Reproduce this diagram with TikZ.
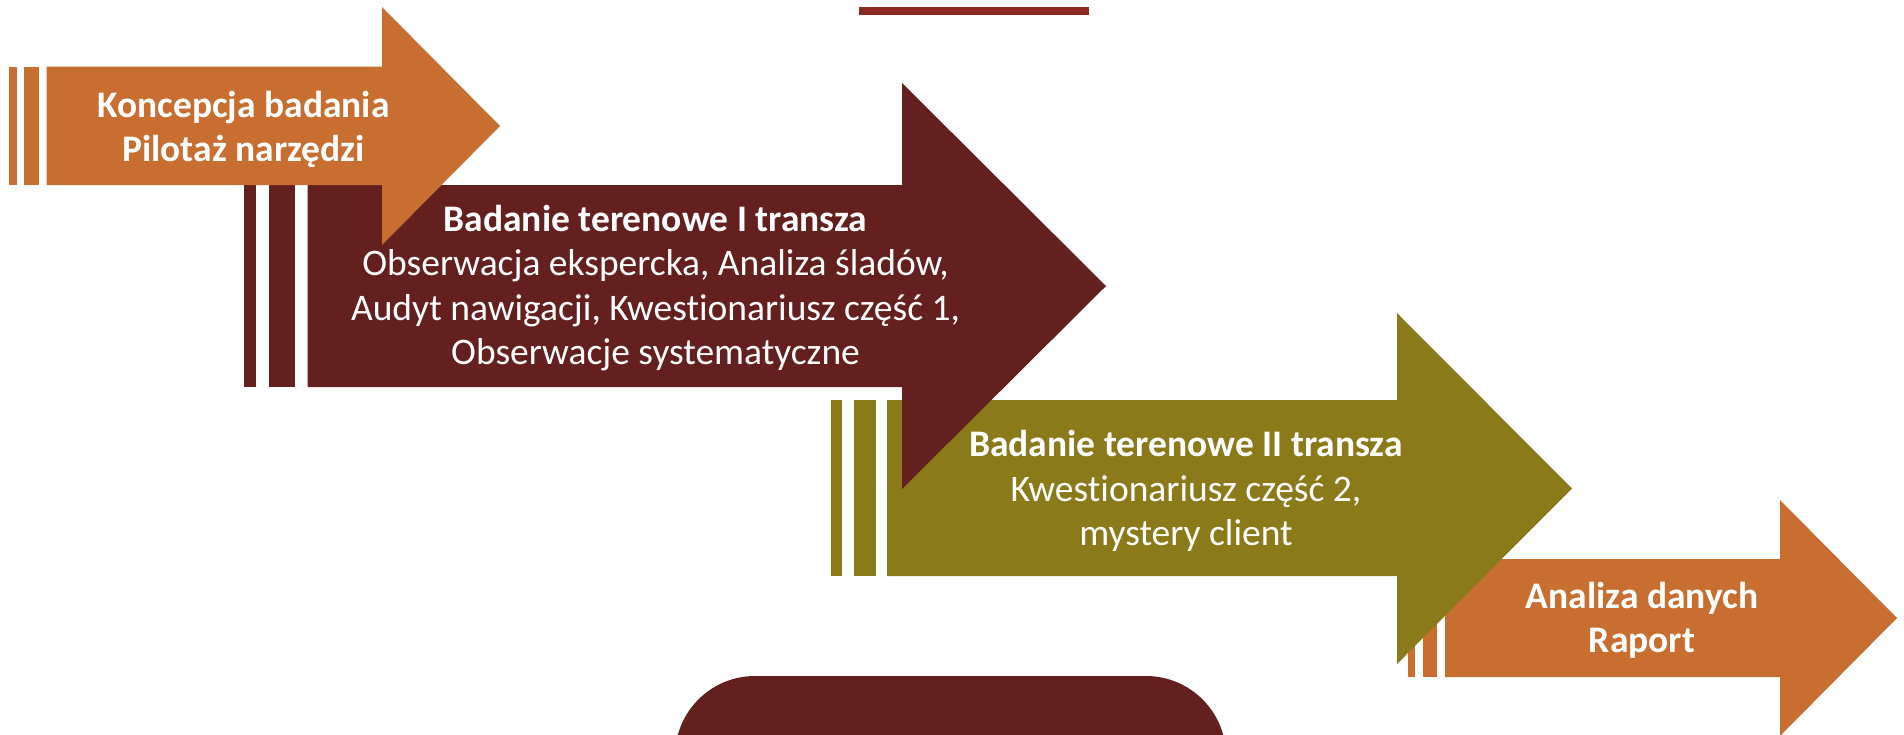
\documentclass[tikz,border=0pt]{standalone}
\usepackage{fontspec}
\setmainfont{Carlito}[Ligatures=NoCommon]
\definecolor{orangeA}{RGB}{200,110,48}
\definecolor{maroonA}{RGB}{100,32,30}
\definecolor{oliveA}{RGB}{139,122,25}
\definecolor{redline}{RGB}{139,41,35}
\begin{document}
\begin{tikzpicture}[x=1pt,y=-1pt,
  lbl/.style={text=white, inner sep=0pt, anchor=base, font=\fontsize{37.5}{45}\selectfont},
  lblb/.style={text=white, inner sep=0pt, anchor=base, font=\fontsize{37.5}{45}\selectfont\bfseries}]
\useasboundingbox (0,0) rectangle (1904,734);
% decorations
\fill[redline] (859,7) rectangle (1088.5,15);
\fill[maroonA, rounded corners=80pt] (675,676) rectangle (1226,900);
% arrow 4
\fill[orangeA] (1408,559) rectangle (1415,677);
\fill[orangeA] (1423,559) rectangle (1437,677);
\fill[orangeA] (1445,559) -- (1780,559) -- (1780,500) -- (1897,618) -- (1780,736) -- (1780,677) -- (1445,677) -- cycle;
\node[lblb] (d1) at (1642,608) {Analiza danych};
\node[lblb] (d2) at (1642,652.5) {Raport};
% arrow 3
\fill[oliveA] (831,400) rectangle (842,576);
\fill[oliveA] (854,400) rectangle (876,576);
\fill[oliveA] (887,400) -- (1397,400) -- (1397,313) -- (1572,488.5) -- (1397,664) -- (1397,576) -- (887,576) -- cycle;
\node[lblb] (c1) at (1186,456.5) {Badanie terenowe II transza};
\node[lbl] (c2) at (1186,501) {Kwestionariusz część 2,};
\node[lbl] (c3) at (1186,545) {mystery client};
% arrow 2
\fill[maroonA] (244,185) rectangle (256,387);
\fill[maroonA] (269,185) rectangle (294.5,387);
\fill[maroonA] (307.5,185) -- (902,185) -- (902,83) -- (1106,286) -- (902,489) -- (902,387) -- (307.5,387) -- cycle;
\node[lblb] (b1) at (655.5,231) {Badanie terenowe I transza};
\node[lbl] (b2) at (655.5,275.5) {Obserwacja ekspercka, Analiza śladów,};
\node[lbl] (b3) at (655.5,320) {Audyt nawigacji, Kwestionariusz część 1,};
\node[lbl] (b4) at (655.5,364) {Obserwacje systematyczne};
% arrow 1
\fill[orangeA] (9.3,66.7) rectangle (16.7,185);
\fill[orangeA] (24.3,66.7) rectangle (39,185);
\fill[orangeA] (46.7,66.7) -- (382,66.7) -- (382,7) -- (500,126) -- (382,245) -- (382,185) -- (46.7,185) -- cycle;
\node[lblb] (a1) at (243.5,117) {Koncepcja badania};
\node[lblb] (a2) at (243.5,161) {Pilotaż narzędzi};
\end{tikzpicture}
\end{document}
